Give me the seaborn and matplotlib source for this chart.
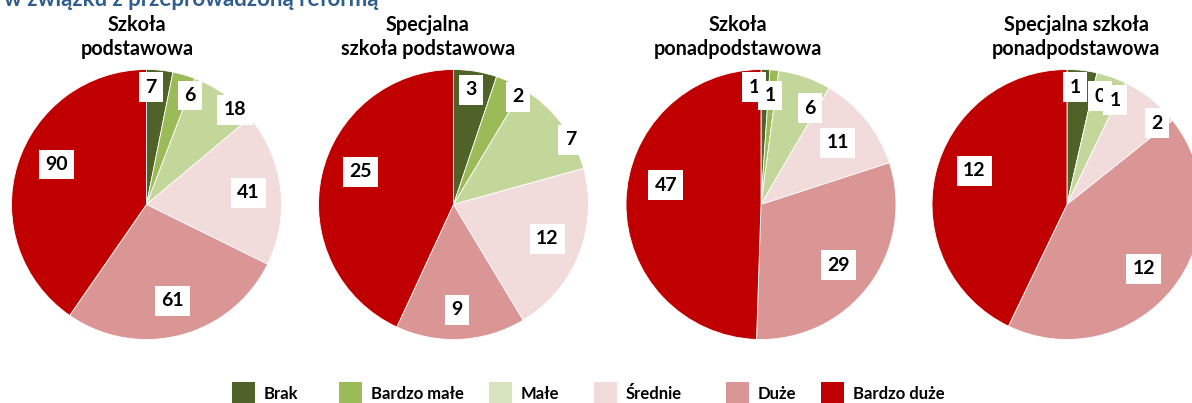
import numpy as np
import matplotlib
matplotlib.use("Agg")
import matplotlib.pyplot as plt
from matplotlib.patches import Rectangle
import seaborn as sns

# data
categories = ["Brak", "Bardzo małe", "Małe", "Średnie", "Duże", "Bardzo duże"]
titles = ["Szkoła\npodstawowa", "Specjalna\nszkoła podstawowa",
          "Szkoła\nponadpodstawowa", "Specjalna szkoła\nponadpodstawowa"]
szkola_podstawowa = [7, 6, 18, 41, 61, 90]
specjalna_podstawowa = [3, 2, 7, 12, 9, 25]
szkola_ponadpodstawowa = [1, 1, 6, 11, 29, 47]
specjalna_ponadpodstawowa = [1, 0, 1, 2, 12, 12]
header = "w związku z przeprowadzoną reformą"

colors = sns.color_palette(["#4F6228", "#9BBB59", "#C4D79B", "#F2DCDB", "#D99694", "#C00000"])
legend_colors = ["#4F6228", "#9BBB59", "#D7E4BD", "#F2DCDB", "#D99694", "#C00000"]

# label placement (fraction of radius, angle nudge in degrees) - mimics excel best fit
label_dist = [[0.87, 0.87, 0.96, 0.76, 0.74, 0.73],
              [0.86, 0.93, 0.99, 0.74, 0.78, 0.73],
              [0.87, 0.81, 0.80, 0.73, 0.73, 0.72],
              [0.87, 0.84, 0.85, 0.90, 0.74, 0.73]]
label_nudge = [[-3.5, 5.7, 7.5, 0.4, -0.5, 6.6],
               [-0.6, 6.2, 8.2, -1.7, 1.1, 7.0],
               [-5.3, -1.0, 8.1, 0.0, 1.0, 10.6],
               [-2.5, 4.1, 5.4, 9.4, 1.4, 7.1]]

sns.set_theme(style="white")
plt.rcParams['font.family'] = ['Lato', 'DejaVu Sans']

W, H = 1192, 403
fig = plt.figure(figsize=(W / 100, H / 100), dpi=100)

centers_x = [146.5, 453.5, 761, 1067]
center_y = 204.5
r = 135
title_x = [137, 428, 738, 1076]

series = [szkola_podstawowa, specjalna_podstawowa, szkola_ponadpodstawowa, specjalna_ponadpodstawowa]

for i, vals in enumerate(series):
    cx = centers_x[i]
    ax = fig.add_axes([(cx - r) / W, (H - center_y - r) / H, 2 * r / W, 2 * r / H])
    ax.pie(vals, colors=colors, startangle=90, counterclock=False, radius=1,
           wedgeprops=dict(edgecolor="white", linewidth=0.6))
    ax.set_xlim(-1, 1)
    ax.set_ylim(-1, 1)
    ax.set_aspect("equal")
    ax.axis("off")

    total = float(sum(vals))
    cum = 0.0
    for j, v in enumerate(vals):
        mid = (cum + v / 2) / total * 360 + label_nudge[i][j]
        cum += v
        a = np.deg2rad(mid)
        d = label_dist[i][j]
        ax.text(d * np.sin(a), d * np.cos(a), str(v), ha="center", va="center",
                fontsize=14, fontweight="bold", color="black", clip_on=False,
                bbox=dict(boxstyle="square,pad=0.33", fc="white", ec="none"))

    fig.text(title_x[i] / W, 1 - 37 / H, titles[i], ha="center", va="center",
             fontsize=14.2, fontweight="bold", color="black", linespacing=1.2)

fig.text(378 / W, 1 - 6 / H, header, ha="right", va="baseline",
         fontsize=16, fontweight="bold", color="#2F5D8E")

# legend drawn as in the excel export: squares cut by the bottom edge
legend_x = [232, 339, 489, 594, 726, 821]
for x, c, name in zip(legend_x, legend_colors, categories):
    fig.patches.append(Rectangle((x / W, 0), 23 / W, 21 / H, transform=fig.transFigure,
                                 facecolor=c, edgecolor="none"))
    fig.text((x + 32) / W, 1 - 394 / H, name, ha="left", va="center",
             fontsize=12, fontweight="bold", color="black")

fig.savefig("out.png", dpi=100)
